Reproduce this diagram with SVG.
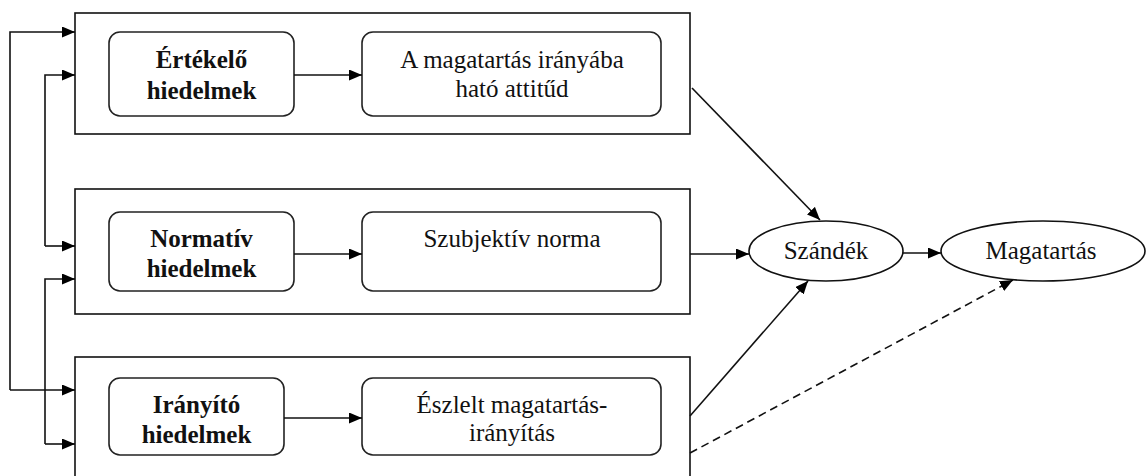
<svg xmlns="http://www.w3.org/2000/svg" width="1148" height="476" viewBox="0 0 1148 476">
<defs>
<marker id="ah" markerUnits="userSpaceOnUse" markerWidth="13" markerHeight="11" refX="13" refY="5.5" orient="auto">
<path d="M0,0 L13,5.5 L0,11 z" fill="#000"/>
</marker>
<style>
.frame{fill:#fff;stroke:#111;stroke-width:1.6}
.box{fill:#fff;stroke:#222;stroke-width:1.6}
.ell{fill:#fff;stroke:#111;stroke-width:1.6}
.c{fill:none;stroke:#111;stroke-width:1.6}
.d{fill:none;stroke:#111;stroke-width:1.6;stroke-dasharray:8 5}
</style>
</defs>
<rect width="1148" height="476" fill="#fff"/>
<g id="frame1"><rect class="frame" x="75" y="13" width="615" height="121"/></g>
<g id="frame2"><rect class="frame" x="75" y="189" width="615" height="125"/></g>
<g id="frame3"><rect class="frame" x="75" y="357" width="615" height="130"/></g>
<g id="ertekelo"><rect class="box" x="109" y="32" width="185" height="84" rx="11"/>
<text x="201.5" y="68" style="font-family:'Liberation Serif',serif;font-size:25px;font-weight:bold;fill:#111;text-anchor:middle">Értékelő</text>
<text x="201.5" y="99" style="font-family:'Liberation Serif',serif;font-size:25px;font-weight:bold;fill:#111;text-anchor:middle">hiedelmek</text></g>
<g id="attitud"><rect class="box" x="362" y="32" width="299" height="84" rx="11"/>
<text x="512" y="68" style="font-family:'Liberation Serif',serif;font-size:25px;fill:#111;text-anchor:middle">A magatartás irányába</text>
<text x="512" y="97" style="font-family:'Liberation Serif',serif;font-size:25px;fill:#111;text-anchor:middle">ható attitűd</text></g>
<g id="normativ"><rect class="box" x="109" y="212" width="185" height="79" rx="11"/>
<text x="201.5" y="247" style="font-family:'Liberation Serif',serif;font-size:25px;font-weight:bold;fill:#111;text-anchor:middle">Normatív</text>
<text x="201.5" y="277" style="font-family:'Liberation Serif',serif;font-size:25px;font-weight:bold;fill:#111;text-anchor:middle">hiedelmek</text></g>
<g id="norma"><rect class="box" x="362" y="212" width="299" height="79" rx="11"/>
<text x="512" y="247" style="font-family:'Liberation Serif',serif;font-size:25px;fill:#111;text-anchor:middle">Szubjektív norma</text></g>
<g id="iranyito"><rect class="box" x="109" y="378" width="175" height="77" rx="11"/>
<text x="196.5" y="413" style="font-family:'Liberation Serif',serif;font-size:25px;font-weight:bold;fill:#111;text-anchor:middle">Irányító</text>
<text x="196.5" y="443" style="font-family:'Liberation Serif',serif;font-size:25px;font-weight:bold;fill:#111;text-anchor:middle">hiedelmek</text></g>
<g id="eszlelt"><rect class="box" x="362" y="378" width="299" height="77" rx="11"/>
<text x="512" y="413" style="font-family:'Liberation Serif',serif;font-size:25px;fill:#111;text-anchor:middle">Észlelt magatartás-</text>
<text x="512" y="441" style="font-family:'Liberation Serif',serif;font-size:25px;fill:#111;text-anchor:middle">irányítás</text></g>
<g id="szandek"><ellipse class="ell" cx="826" cy="251" rx="77" ry="30"/>
<text x="826" y="259" style="font-family:'Liberation Serif',serif;font-size:25px;fill:#111;text-anchor:middle">Szándék</text></g>
<g id="magatartas"><ellipse class="ell" cx="1043" cy="251" rx="102" ry="30"/>
<text x="1041" y="259" style="font-family:'Liberation Serif',serif;font-size:25px;fill:#111;text-anchor:middle">Magatartás</text></g>
<g id="connectors">
<path class="c" d="M10,390 V32 H75" marker-end="url(#ah)"/>
<path class="c" d="M10,390 H75" marker-end="url(#ah)"/>
<path class="c" d="M45,246 V75 H75" marker-end="url(#ah)"/>
<path class="c" d="M45,246 H75" marker-end="url(#ah)"/>
<path class="c" d="M45,444 V279 H75" marker-end="url(#ah)"/>
<path class="c" d="M45,444 H75" marker-end="url(#ah)"/>
<path class="c" d="M294,75 H362" marker-end="url(#ah)"/>
<path class="c" d="M294,254 H362" marker-end="url(#ah)"/>
<path class="c" d="M284,418 H362" marker-end="url(#ah)"/>
<path class="c" d="M692,88 L820,220" marker-end="url(#ah)"/>
<path class="c" d="M690,254 H749" marker-end="url(#ah)"/>
<path class="c" d="M690,416 L808,281" marker-end="url(#ah)"/>
<path class="c" d="M903,253 H941" marker-end="url(#ah)"/>
<path class="d" d="M690,453 L1013,280" marker-end="url(#ah)"/>
</g>
</svg>
